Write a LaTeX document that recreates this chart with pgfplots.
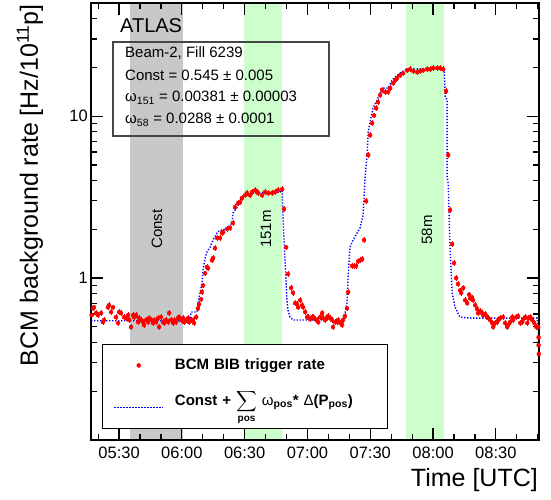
\documentclass[border=0pt]{standalone}
\usepackage{exscale}
\usepackage{fontspec}
\setmainfont{Liberation Sans}
\usepackage{pgfplots}
\pgfplotsset{compat=1.18}
\definecolor{bandgray}{RGB}{200,200,200}
\definecolor{bandgreen}{RGB}{204,255,204}
\definecolor{boxgray}{RGB}{70,70,70}
\pgfplotsset{
  redleg/.style={legend image code/.code={\draw[mark repeat=2,mark phase=2,##1] plot coordinates {(0pt,0pt) (24.5pt,0pt) (49pt,0pt)};}},
  blueleg/.style={legend image code/.code={\draw[draw=blue, line width=1.4pt, dash pattern=on 1.3pt off 1.7pt] (0pt,0pt) -- (49pt,0pt);}},
}
\begin{document}
\begin{tikzpicture}
\begin{axis}[
  name=ax,
  width=448pt, height=437pt, scale only axis,
  xmin=16.6, xmax=230.6, ymin=0.1, ymax=50, ymode=log,
  axis line style={line width=1.6pt},
  xtick={30,60,90,120,150,180,210},
  xticklabels={05:30,06:00,06:30,07:00,07:30,08:00,08:30},
  minor xtick={20,40,50,70,80,100,110,130,140,160,170,190,200,220,230},
  ytick={1,10}, yticklabels={1,10},
  minor ytick={0.2,0.3,0.4,0.5,0.6,0.7,0.8,0.9,2,3,4,5,6,7,8,9,20,30,40},
  tick align=inside, tick pos=both,
  major tick length=12pt, minor tick length=6pt,
  tick style={black, line width=1.2pt},
  xticklabel style={font=\fontsize{16.5}{18}\selectfont, inner sep=0pt, anchor=north, yshift=-7pt},
  yticklabel style={font=\fontsize{16.5}{18}\selectfont, inner sep=0pt, anchor=east, xshift=-3pt},
  axis on top,
  legend cell align=left,
  legend style={at={(0.0246,0.0252)}, anchor=south west, draw=black, line width=1pt, fill=white,
    inner xsep=11pt, inner ysep=0pt, column sep=11pt, row sep=0pt,
    nodes={inner sep=0pt, minimum height=42pt, text depth=, text width=202pt,
      font=\fontsize{15}{18}\selectfont\bfseries}},
]
% bands
\addplot[draw=none, fill=bandgray, forget plot] coordinates {(35,0.1) (35,50) (60.5,50) (60.5,0.1)} -- cycle;
\addplot[draw=none, fill=bandgreen, forget plot] coordinates {(89.8,0.1) (89.8,50) (107.6,50) (107.6,0.1)} -- cycle;
\addplot[draw=none, fill=bandgreen, forget plot] coordinates {(167.2,0.1) (167.2,50) (185.2,50) (185.2,0.1)} -- cycle;

% measured BCM BIB trigger rate
\addplot[only marks, mark=*, mark size=2pt, red, mark options={line width=0.4pt}, redleg,
  error bars/.cd, y dir=both, y fixed relative=0.04, error mark=none,
  error bar style={red, line width=0.8pt}
] coordinates {
(16.9,0.59) (17.6,0.65) (18.0,0.66) (19.0,0.608) (19.9,0.591) (21.4,0.608) (22.3,0.535) (22.8,0.551) (24.7,0.66) (25.2,0.68) (26.2,0.617) (27.1,0.66) (28.5,0.574) (29.5,0.528) (30.0,0.617) (30.9,0.608) (32.4,0.574) (33.3,0.566) (34.3,0.591) (34.8,0.551) (35.7,0.499) (36.7,0.591) (37.1,0.574) (38.1,0.591) (39.1,0.535) (39.5,0.566) (40.5,0.551) (41.4,0.535) (41.9,0.513) (42.9,0.551) (43.8,0.535) (44.3,0.566) (45.3,0.551) (46.2,0.528) (46.7,0.551) (47.7,0.535) (48.6,0.566) (49.1,0.499) (50.0,0.574) (51.0,0.535) (51.5,0.528) (52.4,0.551) (53.4,0.535) (53.9,0.608) (54.8,0.551) (55.8,0.528) (56.3,0.551) (57.2,0.535) (58.2,0.566) (58.6,0.574) (59.6,0.551) (60.6,0.566) (61.0,0.535) (62.0,0.551) (63.0,0.566) (63.4,0.535) (64.4,0.551) (65.3,0.551) (65.8,0.528) (66.8,0.574) (67.7,0.65) (68.2,0.69) (69.2,0.74) (69.6,0.82) (70.1,0.90) (71.1,1.07) (72.0,1.17) (72.5,1.15) (74.4,1.29) (74.9,1.33) (75.8,1.53) (76.8,1.77) (78.2,1.77) (79.2,1.90) (79.7,1.92) (81.6,2.01) (83.0,2.04) (84.4,2.19) (85.4,2.74) (86.8,2.90) (87.8,2.94) (88.7,3.12) (90.2,3.25) (91.1,3.35) (92.6,3.25) (93.5,3.40) (95.0,3.49) (95.9,3.40) (96.4,3.35) (98.3,3.25) (99.7,3.40) (101.2,3.35) (103.1,3.35) (104.5,3.40) (105.9,3.49) (107.9,3.54) (108.8,2.67) (109.8,1.55) (110.7,1.06) (112.2,0.87) (113.1,0.81) (114.1,0.70) (115.0,0.69) (115.5,0.66) (116.5,0.73) (117.4,0.68) (117.9,0.66) (118.9,0.617) (119.8,0.574) (120.3,0.574) (121.2,0.558) (122.2,0.574) (122.7,0.574) (123.6,0.558) (124.6,0.551) (125.1,0.535) (126.0,0.574) (127.0,0.608) (127.4,0.566) (128.4,0.551) (129.4,0.574) (129.8,0.582) (130.8,0.566) (131.7,0.551) (132.2,0.499) (133.2,0.535) (134.1,0.535) (134.6,0.551) (135.6,0.528) (136.5,0.513) (137.0,0.551) (137.9,0.582) (138.9,0.65) (139.4,0.82) (141.3,1.19) (142.3,1.19) (143.2,1.19) (144.2,1.27) (145.1,1.29) (146.1,1.31) (147.0,1.72) (148.0,2.99) (149.0,5.75) (149.9,7.64) (150.9,9.05) (151.8,10.1) (152.8,11.2) (153.7,12.2) (154.7,13.5) (155.6,14.5) (157.1,14.1) (158.5,14.1) (159.5,14.9) (160.9,16.0) (161.9,16.7) (162.8,17.2) (164.2,17.9) (165.7,18.4) (167.6,19.2) (169.0,19.5) (170.5,19.0) (172.4,18.7) (173.8,19.0) (175.2,19.2) (177.1,19.5) (178.6,19.5) (180.0,19.8) (182.0,19.8) (183.4,19.8) (184.8,19.5) (186.2,14.3) (187.2,5.75) (188.1,2.63) (189.1,1.62) (190.0,1.24) (191.0,1.00) (191.9,0.92) (192.9,0.84) (193.4,0.81) (194.4,0.87) (195.3,0.73) (196.3,0.70) (197.2,0.79) (197.7,0.75) (198.6,0.76) (199.1,0.73) (200.1,0.68) (201.0,0.644) (201.5,0.608) (202.5,0.625) (203.4,0.608) (203.9,0.591) (204.9,0.600) (205.8,0.574) (206.3,0.566) (207.2,0.551) (208.2,0.528) (208.7,0.499) (209.6,0.528) (210.6,0.535) (211.1,0.551) (212.0,0.566) (213.4,0.574) (214.4,0.528) (215.4,0.499) (215.8,0.513) (216.8,0.535) (217.8,0.574) (218.2,0.551) (219.7,0.574) (220.6,0.582) (221.6,0.528) (222.6,0.535) (223.0,0.558) (224.0,0.574) (225.0,0.528) (225.4,0.566) (226.4,0.574) (227.3,0.551) (228.3,0.528) (229.3,0.499) (230.2,0.499) (230.4,0.43) (230.4,0.385) (230.5,0.34)
};
\addlegendentry{BCM BIB trigger rate}

% model
\addplot[blue, line width=1.4pt, dash pattern=on 1.3pt off 1.7pt, blueleg] coordinates {
(16.6,0.545) (63.9,0.545) (64.4,0.617) (67.2,0.617) (67.7,0.70) (68.7,0.81) (69.6,0.93) (70.1,1.12) (71.1,1.33) (72.0,1.45) (73.5,1.55) (74.9,1.72) (76.8,1.90) (78.2,1.98) (79.7,1.98) (82.1,2.06) (84.0,2.19) (84.4,2.52) (86.4,2.74) (87.8,3.03) (89.2,3.16) (91.1,3.25) (93.5,3.35) (106.9,3.40) (107.9,3.49) (108.3,2.45) (109.3,1.24) (110.2,0.73) (110.7,0.634) (111.7,0.574) (113.1,0.551) (137.0,0.551) (137.9,0.608) (138.9,0.70) (139.4,1.01) (140.3,1.55) (141.3,1.67) (143.7,1.90) (145.1,2.04) (146.6,2.45) (147.5,4.14) (148.5,5.75) (149.0,7.97) (149.9,9.18) (151.3,11.2) (153.3,12.6) (154.7,13.9) (156.1,14.9) (158.5,14.9) (160.4,16.7) (162.8,17.9) (165.7,19.0) (167.6,19.5) (183.4,19.8) (185.3,19.5) (185.8,13.1) (186.7,12.6) (186.7,4.20) (187.2,3.86) (188.1,1.55) (189.1,0.81) (190.5,0.66) (192.9,0.574) (197.7,0.566) (229.7,0.566) (230.2,0.478) (230.6,0.235)
};
\addlegendentry{Const + $\displaystyle\sum_{\mbox{\fontsize{10}{10}\selectfont\bfseries pos}}$ {\mdseries ω}\textsubscript{pos}* {\mdseries Δ}(P\textsubscript{pos})}
\end{axis}

% annotations
\node[anchor=base west, inner sep=0pt, font=\fontsize{20}{24}\selectfont] at ([shift={(29pt,407pt)}]ax.south west) {ATLAS};
\draw[boxgray, line width=1.2pt] ([shift={(22pt,304pt)}]ax.south west) rectangle ([shift={(238pt,398pt)}]ax.south west);
\begin{scope}[every node/.style={anchor=base west, inner sep=0pt, font=\fontsize{15}{18}\selectfont}]
\node at ([shift={(34pt,382pt)}]ax.south west) {Beam-2, Fill 6239};
\node at ([shift={(34pt,359pt)}]ax.south west) {Const = 0.545 ± 0.005};
\node at ([shift={(34pt,338pt)}]ax.south west) {ω\textsubscript{151} = 0.00381 ± 0.00003};
\node at ([shift={(34pt,316pt)}]ax.south west) {ω\textsubscript{58} = 0.0288 ± 0.0001};
\end{scope}
\begin{scope}[every node/.style={rotate=90, inner sep=0pt, font=\fontsize{15}{18}\selectfont}]
\node at ([shift={(66pt,211pt)}]ax.south west) {Const};
\node at ([shift={(175pt,211pt)}]ax.south west) {151m};
\node at ([shift={(336pt,210pt)}]ax.south west) {58m};
\end{scope}
\node[rotate=90, anchor=east, inner sep=0pt, font=\fontsize{25}{30}\selectfont] at ([shift={(-61pt,436pt)}]ax.south west) {BCM background rate [Hz/10\textsuperscript{11}p]};
\node[anchor=base east, inner sep=0pt, font=\fontsize{25}{30}\selectfont] at ([shift={(447pt,-46.5pt)}]ax.south west) {Time [UTC]};
\path[use as bounding box] ([shift={(-91pt,-60pt)}]ax.south west) rectangle ([shift={(460pt,440pt)}]ax.south west);
\end{tikzpicture}
\end{document}
